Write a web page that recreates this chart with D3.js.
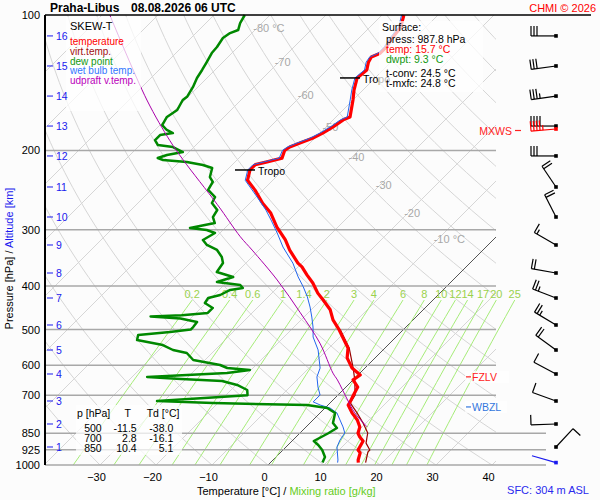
<!DOCTYPE html>
<html>
<head>
<meta charset="utf-8">
<script src="https://cdn.jsdelivr.net/npm/d3@7"></script>
<style>
  body { margin: 0; background: #fcfcfc; }
  svg text { font-family: "Liberation Sans", Arial, sans-serif; }
</style>
</head>
<body>
<div id="skewt"></div>
<script>
// temperature profile (hPa, °C)
var tempP = [987.8, 974.7, 940, 926, 884.5, 866.7, 850, 823, 794, 766, 735.6, 724, 700, 671, 647, 631, 609, 578, 549.5, 533, 506, 500, 476, 452, 430, 415, 394, 378, 363, 356, 333, 316, 296, 275, 262, 245, 233, 221, 215, 212, 208, 200, 196.5, 192.5, 188, 183, 177, 171, 168.5, 154.5, 146.8, 138, 132.5, 127.3, 124, 121.6, 117.8, 112, 106.3, 100];
var tempT = [15.7, 15.2, 14.3, 13.4, 12.7, 11.4, 10.4, 9.6, 7.9, 5.7, 3.6, 3.4, 2.8, 2.1, 0.0, 0.4, -2.3, -5.0, -6.6, -8.2, -10.9, -11.5, -14.3, -16.6, -19.6, -21.8, -24.5, -27.0, -29.3, -30.7, -34.5, -37.1, -40.9, -44.6, -47.7, -51.4, -54.5, -55.9, -55.9, -54.3, -52.3, -53.2, -52.9, -51.8, -50.4, -49.5, -48.75, -48.2, -47.5, -50.0, -51.6, -53.2, -52.9, -54.0, -54.4, -53.5, -53.5, -54.1, -54.5, -56.1];

// virtual temperature
var virtP = [987.8, 935, 926, 894, 867, 849, 807, 766, 728, 700, 647, 609, 549.5, 500];
var virtT = [17.0, 15.5, 15.5, 13.6, 12.7, 12.1, 9.5, 6.6, 3.6, 3.1, 0.3, -2.1, -6.4, -11.3];

// dew point
var dewP = [987.8, 960, 926.1, 902.7, 884.5, 850, 827.5, 806.6, 766.4, 747, 735.6, 728.2, 720.7, 706.1, 700, 681.3, 664, 650.6, 643.9, 637.4, 624.6, 615, 608.8, 599.5, 584.3, 563.8, 555.2, 541.2, 527.5, 514.2, 506.4, 500, 493.6, 481.2, 472.5, 467.5, 465, 459.4, 447.8, 436.5, 425.5, 419, 408.4, 404.2, 398.1, 392, 382.1, 372.5, 355.8, 344.9, 332.8, 324.4, 316.2, 305.1, 300.5, 297.4, 290, 281.3, 271.2, 261.7, 253.8, 244.8, 235, 229.1, 218.8, 215.4, 212.2, 210, 207.9, 204.7, 201.6, 196.5, 194.5, 189.6, 184.8, 183, 180.1, 175.6, 168.5, 162.6, 154.5, 152, 144.5, 138, 132.5, 127.2, 121.5, 117.8, 112.5, 109.7, 108, 104.2, 100];
var dewT = [9.3, 8.75, 7.0, 5.4, 3.9, 5.1, 5.7, 4.1, 2.7, 0.4, -3.75, -20.9, -31.25, -20.7, -16.1, -17.1, -19.8, -23.2, -30.9, -37.3, -23.75, -20.2, -24.6, -26.4, -32.1, -34.5, -37.5, -40.2, -45.7, -46.4, -41.25, -38.0, -38.0, -38.2, -41.8, -47.5, -42.1, -37.9, -37.9, -40.2, -40.5, -38.9, -38.0, -36.1, -37.1, -41.8, -39.8, -43.6, -44.1, -45.4, -47.5, -50.2, -51.8, -50.9, -52.9, -56.25, -52.7, -54.1, -54.6, -56.8, -57.3, -59.8, -60.4, -61.8, -63.0, -65.2, -68.6, -73.2, -74.5, -73.4, -71.1, -73.75, -76.8, -78.2, -78.2, -76.25, -77.9, -79.6, -80.2, -79.6, -80.4, -80.2, -80.9, -81.8, -82.3, -82.9, -83.6, -83.75, -84.3, -83.9, -83.0, -83.9, -84.5];

// wet bulb temperature
var wetP = [987.8, 974.7, 912, 880, 849, 823, 766, 747, 735.6, 724, 699, 671, 637, 609, 555, 519.5, 493.6, 469, 445.6, 423, 402, 382, 356, 327.8, 305, 285.5, 271.3, 253.8, 233, 221, 215, 212, 208, 200, 196.5, 192.5, 188, 183, 177, 171, 168.5, 154.5, 146.8, 138, 132.5, 127.3, 124, 121.6, 117.8, 112, 106.3, 100];
var wetT = [12.0, 11.6, 9.1, 8.4, 8.0, 6.6, 3.0, 0.9, -1.4, -3.2, -3.2, -5.0, -7.0, -8.0, -11.6, -14.8, -16.6, -18.6, -20.7, -23.0, -25.5, -28.2, -31.6, -36.25, -39.8, -43.2, -45.9, -49.8, -54.9, -56.3, -56.3, -54.8, -52.8, -53.6, -53.3, -52.3, -50.9, -50.0, -49.2, -48.7, -48.0, -50.5, -52.0, -53.6, -53.3, -54.4, -54.7, -53.9, -53.9, -54.5, -54.9, -56.5];

// updraft virtual temperature
var updP = [823, 766, 717, 647, 625, 536, 459, 388, 333, 311, 264, 210, 190, 154.5, 100];
var updT = [10.9, 6.2, 2.6, -2.8, -4.8, -12.5, -21.4, -31.4, -41.2, -45.7, -55.5, -69.6, -75.5, -86.8, -108.6];

// axes and reference lines
var pressTicks = [100, 200, 300, 400, 500, 600, 700, 850, 925, 1000];
var tempTicks = [-30, -20, -10, 0, 10, 20, 30, 40];
var mixRatios = [0.2, 0.4, 0.6, 1, 1.4, 2, 3, 4, 6, 8, 10, 12, 14, 17, 20, 25];
var mixTopP = 430;
var isoLabels = [-80, -70, -60, -50, -40, -30, -20, -10];
var isoLabelTheta = 366;

// altitude (km) and winds at each km
var altKm = [1, 2, 3, 4, 5, 6, 7, 8, 9, 10, 11, 12, 13, 14, 15, 16];
var altP = [912, 810.7, 720.7, 627.7, 555.2, 488.5, 425.5, 374.4, 324.4, 281.1, 241.1, 205.7, 176.5, 151.4, 129.8, 111.3];
var windDir = [43, 268, 290, 298, 306, 301, 291, 280, 300, 333, 326, 270, 270, 262, 262, 270];
var windSpd = [10, 10, 10, 10, 20, 25, 25, 20, 15, 20, 20, 30, 40, 35, 30, 30];
var sfcWind = [286, 2];
var mxwsP = 179.2, mxwsDir = 265, mxwsSpd = 45;

// levels
var tropoP = [221, 138];
var fzlvP = 637, wbzlP = 743;

// surface and table values
var sfcPress = 987.8, sfcTemp = 15.7, sfcDwpt = 9.3, tConv = 24.5, tMxfc = 24.8;
var tableP = [500, 700, 850];
var tableT = [-11.5, 2.8, 10.4];
var tableTd = [-38.0, -16.1, 5.1];

var width = 600, height = 500;
var plotL = 45, plotR = 496, plotT = 15, plotB = 465;

var svg = d3.select("#skewt").append("svg")
    .attr("width", width)
    .attr("height", height);

var y = d3.scaleLog().domain([1000, 100]).range([plotB, plotT]);
var xT = d3.scaleLinear().domain([0, 10]).range([268, 324]);

// skewed x position: isotherms lean 45 degrees
function sx(t, p) { return xT(t) + (y(1000) - y(p)); }

function dewFromMix(w, p) {
    var e = w * p / (622 + w);
    var l = Math.log(e / 6.112);
    return 243.5 * l / (17.67 - l);
}

var skewLine = d3.line()
    .x(function (d) { return sx(d[1], d[0]); })
    .y(function (d) { return y(d[0]); });

var defs = svg.append("defs");
defs.append("clipPath").attr("id", "plotClip").append("rect")
    .attr("x", plotL).attr("y", plotT).attr("width", plotR - plotL).attr("height", plotB - plotT);
defs.append("clipPath").attr("id", "mixClip").append("rect")
    .attr("x", plotL).attr("y", y(mixTopP)).attr("width", 520).attr("height", plotB - y(mixTopP));

// grid: isotherms and dry adiabats
var grid = svg.append("g").attr("clip-path", "url(#plotClip)");
d3.range(-130, 60, 10).forEach(function (t) {
    grid.append("path")
        .attr("d", skewLine([[1000, t], [100, t]]))
        .attr("fill", "none").attr("stroke", "#d6d6d6").attr("stroke-width", 1);
});
var levels = d3.range(0, 61).map(function (i) { return 1000 * Math.pow(0.1, i / 60); });
d3.range(-40, 190, 10).forEach(function (th) {
    var pts = levels.map(function (p) {
        return [p, (th + 273.15) * Math.pow(p / 1000, 0.2857) - 273.15];
    });
    grid.append("path")
        .attr("d", skewLine(pts))
        .attr("fill", "none").attr("stroke", "#d6d6d6").attr("stroke-width", 1);
});

// mixing ratio lines
var mixG = svg.append("g").attr("clip-path", "url(#mixClip)");
var mixLevels = d3.range(0, 21).map(function (i) { return 1000 * Math.pow(mixTopP / 1000, i / 20); });
mixRatios.forEach(function (w) {
    var pts = mixLevels.map(function (p) { return [p, dewFromMix(w, p)]; });
    mixG.append("path")
        .attr("d", skewLine(pts))
        .attr("fill", "none").attr("stroke", "#a6ec78").attr("stroke-width", 1);
});
svg.append("g").selectAll("text")
    .data(mixRatios)
    .enter()
    .append("text")
    .attr("x", function (w) { return sx(dewFromMix(w, mixTopP), mixTopP); })
    .attr("y", y(mixTopP) - 2)
    .attr("text-anchor", "middle")
    .attr("font-size", 11)
    .attr("fill", "#9ad24c")
    .text(function (w) { return w; });

// 0 °C isotherm
grid.append("path")
    .attr("d", skewLine([[1000, 0], [100, 0]]))
    .attr("fill", "none").attr("stroke", "#555").attr("stroke-width", 1);

// isobars
pressTicks.filter(function (p) { return p > 100; }).forEach(function (p) {
    svg.append("line")
        .attr("x1", plotL).attr("x2", p >= 850 ? 546 : plotR)
        .attr("y1", y(p)).attr("y2", y(p))
        .attr("stroke", "#a8a8a8").attr("stroke-width", 1.5);
});

// isotherm labels along one dry adiabat
function isoLabelP(t) { return 1000 * Math.pow((t + 273.15) / isoLabelTheta, 1 / 0.2857); }
svg.append("g").selectAll("text")
    .data(isoLabels)
    .enter()
    .append("text")
    .attr("x", function (t) { return sx(t, isoLabelP(t)) - 4; })
    .attr("y", function (t) { return y(isoLabelP(t)) + 4; })
    .attr("font-size", 11)
    .attr("fill", "#a8a8a8")
    .text(function (t, i) { return (i == 0 || i == isoLabels.length - 1) ? t + " °C" : t; });

// profiles
function profile(ps, ts, color, w, curve) {
    var gen = d3.line()
        .x(function (d) { return sx(d[1], d[0]); })
        .y(function (d) { return y(d[0]); })
        .curve(curve || d3.curveLinear);
    svg.append("path")
        .attr("d", gen(d3.zip(ps, ts)))
        .attr("fill", "none")
        .attr("stroke", color)
        .attr("stroke-width", w)
        .attr("stroke-linejoin", "round");
}
profile(virtP, virtT, "#990000", 1.2);
profile(tempP, tempT, "#ff0000", 3.2);
profile(wetP, wetT, "#2266ee", 1);
profile(dewP, dewT, "#008800", 2.5);
profile(updP, updT, "#aa00aa", 1, d3.curveCatmullRom);

// tropopause marks
var tropoX = [[235, 255], [340, 360]];
tropoP.forEach(function (p, i) {
    svg.append("line")
        .attr("x1", tropoX[i][0]).attr("x2", tropoX[i][1])
        .attr("y1", y(p)).attr("y2", y(p))
        .attr("stroke", "#000").attr("stroke-width", 1.5);
    svg.append("text")
        .attr("x", tropoX[i][1] + 3).attr("y", y(p) + 5)
        .attr("font-size", 10.5)
        .text("Tropo");
});

// translucent boxes
function box(x, yy, w, h) {
    svg.append("rect").attr("x", x).attr("y", yy).attr("width", w).attr("height", h)
        .attr("fill", "#fff").attr("fill-opacity", 0.72);
}
box(66, 17, 75, 94);
box(379, 21, 104, 71);
box(76, 405, 106, 50);
box(465, y(fzlvP) - 6, 44, 12);
box(465, y(wbzlP) - 6, 42, 12);

// axes
svg.append("line").attr("x1", plotL).attr("x2", 591).attr("y1", plotT).attr("y2", plotT)
    .attr("stroke", "#000").attr("stroke-width", 1.5);
svg.append("line").attr("x1", plotL).attr("x2", plotL).attr("y1", plotT).attr("y2", plotB)
    .attr("stroke", "#000").attr("stroke-width", 2);

var yAxis = svg.append("g")
    .attr("transform", "translate(" + plotL + ",0)")
    .call(d3.axisLeft(y).tickValues(pressTicks).tickFormat(d3.format("d")).tickSize(0).tickPadding(5));
yAxis.select(".domain").remove();
yAxis.selectAll("text").attr("font-size", 11).attr("fill", "#000")
    .attr("font-family", "Liberation Sans, Arial, sans-serif");

var xAxis = svg.append("g")
    .attr("transform", "translate(-4," + plotB + ")")
    .call(d3.axisBottom(xT).tickValues(tempTicks).tickSize(0).tickPadding(8));
xAxis.select(".domain").remove();
xAxis.selectAll("text").attr("font-size", 11).attr("fill", "#000")
    .attr("font-family", "Liberation Sans, Arial, sans-serif");

// altitude ticks
altKm.forEach(function (km, i) {
    var yy = y(altP[i]);
    svg.append("line").attr("x1", 47).attr("x2", 53).attr("y1", yy).attr("y2", yy)
        .attr("stroke", "#1a1aee").attr("stroke-width", 1);
    svg.append("text").attr("x", 56).attr("y", yy + 4)
        .attr("font-size", 10.5).attr("fill", "#1a1aee").text(km);
});

// axis titles
var xt = svg.append("text").attr("x", 197).attr("y", 495).attr("font-size", 11);
xt.append("tspan").attr("fill", "#000").text("Temperature [°C]  /  ");
xt.append("tspan").attr("fill", "#66cc22").text("Mixing ratio [g/kg]");

var yt = svg.append("text")
    .attr("transform", "translate(12.5,258.5) rotate(-90)")
    .attr("text-anchor", "middle")
    .attr("font-size", 11);
yt.append("tspan").attr("fill", "#000").text("Pressure [hPa]  /  ");
yt.append("tspan").attr("fill", "#1a1aee").text("Altitude [km]");

svg.append("text").attr("x", 589).attr("y", 494).attr("text-anchor", "end")
    .attr("font-size", 11).attr("fill", "#2a2aee").text("SFC: 304 m ASL");

// title
svg.append("text").attr("x", 50).attr("y", 11.5).attr("font-size", 12).attr("font-weight", "bold")
    .text("Praha-Libus");
svg.append("text").attr("x", 131).attr("y", 11.5).attr("font-size", 12).attr("font-weight", "bold")
    .text("08.08.2026 06 UTC");
svg.append("text").attr("x", 596).attr("y", 11.5).attr("text-anchor", "end")
    .attr("font-size", 11).attr("fill", "#ff0000").text("CHMI © 2026");

// legend
svg.append("text").attr("x", 70).attr("y", 29.5).attr("font-size", 11).text("SKEW-T");
var legend = [["temperature", "#ff0000"], ["virt.temp.", "#a01010"], ["dew point", "#119911"],
              ["wet bulb temp.", "#3377ff"], ["udpraft v.temp.", "#bb00bb"]];
legend.forEach(function (d, i) {
    svg.append("text").attr("x", 70).attr("y", 45 + i * 9.8)
        .attr("font-size", 10).attr("fill", d[1]).text(d[0]);
});

// surface info
var sfcLines = [
    ["Surface:", "#000", 382, 31],
    ["press: " + sfcPress.toFixed(1) + " hPa", "#000", 386, 43.3],
    ["temp: " + sfcTemp.toFixed(1) + " °C", "#ff0000", 386, 53.3],
    ["dwpt: " + sfcDwpt.toFixed(1) + " °C", "#119911", 386, 63.3],
    ["t-conv: " + tConv.toFixed(1) + " °C", "#000", 386, 77.3],
    ["t-mxfc: " + tMxfc.toFixed(1) + " °C", "#000", 386, 87.3]
];
sfcLines.forEach(function (d) {
    svg.append("text").attr("x", d[2]).attr("y", d[3]).attr("font-size", 10.5)
        .attr("fill", d[1]).text(d[0]);
});

// standard level table
svg.append("text").attr("x", 77).attr("y", 416.7).attr("font-size", 10.5).text("p [hPa]");
svg.append("text").attr("x", 127.7).attr("y", 416.7).attr("font-size", 10.5).attr("text-anchor", "middle").text("T");
svg.append("text").attr("x", 146.7).attr("y", 416.7).attr("font-size", 10.5).text("Td [°C]");
tableP.forEach(function (p, i) {
    var yy = 432.3 + i * 10;
    svg.append("text").attr("x", 101.7).attr("y", yy).attr("font-size", 10.5).attr("text-anchor", "end").text(p);
    svg.append("text").attr("x", 136.7).attr("y", yy).attr("font-size", 10.5).attr("text-anchor", "end").text(tableT[i].toFixed(1));
    svg.append("text").attr("x", 173.3).attr("y", yy).attr("font-size", 10.5).attr("text-anchor", "end").text(tableTd[i].toFixed(1));
});

// level markers
svg.append("text").attr("x", 512).attr("y", y(mxwsP) + 5.5).attr("text-anchor", "end")
    .attr("font-size", 10.5).attr("fill", "#ff2222").text("MXWS");
svg.append("line").attr("x1", 515).attr("x2", 521).attr("y1", y(mxwsP) + 1.5).attr("y2", y(mxwsP) + 1.5)
    .attr("stroke", "#ff2222").attr("stroke-width", 1.2);
[[fzlvP, "FZLV", "#ff2222"], [wbzlP, "WBZL", "#3377dd"]].forEach(function (d) {
    var yy = y(d[0]);
    svg.append("line").attr("x1", 466).attr("x2", 471).attr("y1", yy).attr("y2", yy)
        .attr("stroke", d[2]).attr("stroke-width", 1.2);
    svg.append("text").attr("x", 472).attr("y", yy + 4).attr("font-size", 10.5)
        .attr("fill", d[2]).text(d[1]);
});

// wind barbs
var barbs = svg.append("g");
function drawBarb(p, dir, spd, color) {
    var x0 = 556, y0 = y(p);
    var a = dir * Math.PI / 180;
    var ux = Math.sin(a), uy = -Math.cos(a);
    var px = -uy, py = ux;
    var tx = x0 + ux * 25, ty = y0 + uy * 25;
    barbs.append("line").attr("x1", x0).attr("y1", y0).attr("x2", tx).attr("y2", ty)
        .attr("stroke", color).attr("stroke-width", 1.2);
    var halves = Math.round(spd / 5), full = Math.floor(halves / 2), pos = 0;
    for (var i = 0; i < full; i++) {
        var bx = tx - ux * pos, by = ty - uy * pos;
        barbs.append("line").attr("x1", bx).attr("y1", by)
            .attr("x2", bx + px * 10).attr("y2", by + py * 10)
            .attr("stroke", color).attr("stroke-width", 1.2);
        pos += 3;
    }
    if (halves % 2) {
        if (full == 0) pos = 3;
        var hx = tx - ux * pos, hy = ty - uy * pos;
        barbs.append("line").attr("x1", hx).attr("y1", hy)
            .attr("x2", hx + px * 5).attr("y2", hy + py * 5)
            .attr("stroke", color).attr("stroke-width", 1.2);
    }
    barbs.append("rect").attr("x", x0 - 1.8).attr("y", y0 - 1.8)
        .attr("width", 3.6).attr("height", 3.6).attr("fill", color);
}
altP.forEach(function (p, i) { drawBarb(p, windDir[i], windSpd[i], "#000"); });
drawBarb(mxwsP, mxwsDir, mxwsSpd, "#ff0000");
drawBarb(sfcPress, sfcWind[0], sfcWind[1], "#1a1aee");
</script>
</body>
</html>
